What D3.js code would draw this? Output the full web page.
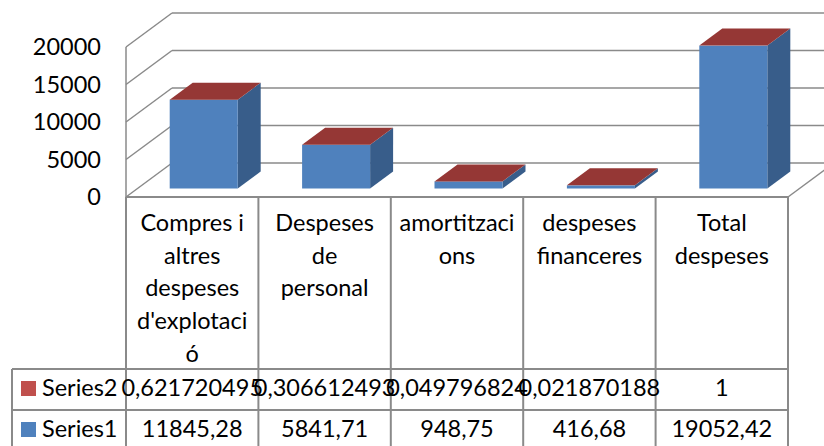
<!DOCTYPE html>
<meta charset="utf-8">
<style>
body { margin: 0; background: #fff; }
svg { display: block; }
text { font-family: Lato, "Open Sans", sans-serif; fill: #000; }
</style>
<body></body>
<script src="https://cdnjs.cloudflare.com/ajax/libs/d3/7.8.5/d3.min.js"></script>
<script>

// data
var categories = ["Compres i altres despeses d'explotació", "Despeses de personal",
                  "amortitzacions", "despeses financeres", "Total despeses"];
// how Excel wrapped the category names in the data table
var categoryLines = [["Compres i", "altres", "despeses", "d'explotaci", "ó"],
                     ["Despeses", "de", "personal"],
                     ["amortitzaci", "ons"],
                     ["despeses", "financeres"],
                     ["Total", "despeses"]];
var series1 = [11845.28, 5841.71, 948.75, 416.68, 19052.42];
var series2 = [0.621720495, 0.306612493, 0.049796824, 0.021870188, 1];
var yTicks = [0, 5000, 10000, 15000, 20000];

var W = 824, H = 446;
var fontSize = 23.5;

var svg = d3.select("body").append("svg")
    .attr("width", W)
    .attr("height", H);

// front plane of the floor / walls
var x = d3.scaleBand().domain(d3.range(categories.length)).range([126, 788]);
var y = d3.scaleLinear().domain([0, 20000]).range([197, 47]);
// depth vector (going back into the picture)
var depth = d3.scaleLinear().domain([0, 1]).range([0, 1]);
var dX = 46, dY = -34;
function px(xx, d) { return xx + dX * depth(d); }
function py(yy, d) { return yy + dY * depth(d); }

var grid = "#8a8a8a";

// back wall gridlines
svg.append("g").selectAll("line")
  .data(yTicks)
  .enter().append("line")
    .attr("x1", px(x.range()[0], 1))
    .attr("x2", W + 20)
    .attr("y1", d => py(y(d), 1))
    .attr("y2", d => py(y(d), 1))
    .attr("stroke", grid)
    .attr("stroke-width", 1.5);

// left wall gridlines
svg.append("g").selectAll("line")
  .data(yTicks)
  .enter().append("line")
    .attr("x1", x.range()[0])
    .attr("y1", d => y(d))
    .attr("x2", px(x.range()[0], 1))
    .attr("y2", d => py(y(d), 1))
    .attr("stroke", grid)
    .attr("stroke-width", 1.5);

// left wall front edge + floor right edge
svg.append("line")
    .attr("x1", x.range()[0]).attr("x2", x.range()[0])
    .attr("y1", y(20000)).attr("y2", y(0))
    .attr("stroke", grid).attr("stroke-width", 1.5);
svg.append("line")
    .attr("x1", x.range()[1]).attr("y1", y(0))
    .attr("x2", px(x.range()[1], 1)).attr("y2", py(y(0), 1))
    .attr("stroke", grid).attr("stroke-width", 1.5);

// value axis labels
svg.append("g").selectAll("text")
  .data(yTicks)
  .enter().append("text")
    .attr("x", 101)
    .attr("y", d => y(d))
    .attr("dy", "0.36em")
    .attr("text-anchor", "end")
    .style("font-size", fontSize + "px")
    .text(d => d);

// 3d stacked bars
var barW = 68;
var d0 = 0.25, d1 = 0.75;
var bars = categories.map((c, i) => ({ i: i, v1: series1[i], v2: series2[i] }));

var bar = svg.append("g").selectAll("g")
  .data(bars)
  .enter().append("g");

function left(d) { return x(d.i) + x.bandwidth() / 2 - barW / 2; }

// right side face
bar.append("path")
    .attr("fill", "#385d8a")
    .attr("d", d => {
      var xr = left(d) + barW, yt = y(d.v1 + d.v2), yb = y(0);
      return "M" + px(xr, d0) + "," + py(yb, d0) +
             "L" + px(xr, d0) + "," + py(yt, d0) +
             "L" + px(xr, d1) + "," + py(yt, d1) +
             "L" + px(xr, d1) + "," + py(yb, d1) + "Z";
    });

// front face (series1)
bar.append("rect")
    .attr("fill", "#4f81bd")
    .attr("x", d => px(left(d), d0))
    .attr("y", d => py(y(d.v1), d0))
    .attr("width", barW)
    .attr("height", d => y(0) - y(d.v1));

// top face (series2 sits on top, so its colour shows)
bar.append("path")
    .attr("fill", "#953735")
    .attr("d", d => {
      var xl = left(d), xr = xl + barW, yt = y(d.v1 + d.v2);
      return "M" + px(xl, d0) + "," + py(yt, d0) +
             "L" + px(xr, d0) + "," + py(yt, d0) +
             "L" + px(xr, d1) + "," + py(yt, d1) +
             "L" + px(xl, d1) + "," + py(yt, d1) + "Z";
    });

// data table
var tableTop = y(0), row2Top = 369, row1Top = 410, tableBottom = 451, legendLeft = 12;
var tline = "#8a8a8a";
var tbl = svg.append("g").attr("stroke", tline).attr("stroke-width", 2);

var edges = x.domain().map(i => x(i)).concat([x.range()[1]]);
tbl.selectAll(".v")
  .data(edges)
  .enter().append("line")
    .attr("x1", d => d).attr("x2", d => d)
    .attr("y1", tableTop).attr("y2", tableBottom);
tbl.append("line")
    .attr("x1", x.range()[0]).attr("x2", x.range()[1])
    .attr("y1", tableTop).attr("y2", tableTop);
tbl.selectAll(".h")
  .data([row2Top, row1Top, tableBottom])
  .enter().append("line")
    .attr("x1", legendLeft).attr("x2", x.range()[1])
    .attr("y1", d => d).attr("y2", d => d);
tbl.append("line")
    .attr("x1", legendLeft).attr("x2", legendLeft)
    .attr("y1", row2Top).attr("y2", tableBottom);

// header text
var lineH = 32.7;
var head = svg.append("g").selectAll("text")
  .data(categoryLines)
  .enter().append("text")
    .attr("text-anchor", "middle")
    .style("font-size", fontSize + "px");
head.selectAll("tspan")
  .data((d, i) => d.map(t => ({ t: t, i: i })))
  .enter().append("tspan")
    .attr("x", d => x(d.i) + x.bandwidth() / 2)
    .attr("y", (d, j) => 231 + j * lineH)
    .text(d => d.t);

function fmt(v) { return String(v).replace(".", ","); }

var rows = [
  { name: "Series2", values: series2, color: "#c0504d", top: row2Top },
  { name: "Series1", values: series1, color: "#4f81bd", top: row1Top }
];

var row = svg.append("g").selectAll("g")
  .data(rows)
  .enter().append("g");

row.append("rect")
    .attr("x", 21)
    .attr("y", d => d.top + 12)
    .attr("width", 15)
    .attr("height", 15)
    .attr("fill", d => d.color);

row.append("text")
    .attr("x", 42)
    .attr("y", d => d.top + 27)
    .style("font-size", fontSize + "px")
    .text(d => d.name);

row.selectAll(".val")
  .data(d => d.values.map((v, i) => ({ v: v, i: i, top: d.top })))
  .enter().append("text")
    .attr("x", d => x(d.i) + x.bandwidth() / 2)
    .attr("y", d => d.top + 27)
    .attr("text-anchor", "middle")
    .style("font-size", fontSize + "px")
    .text(d => fmt(d.v));

</script>
